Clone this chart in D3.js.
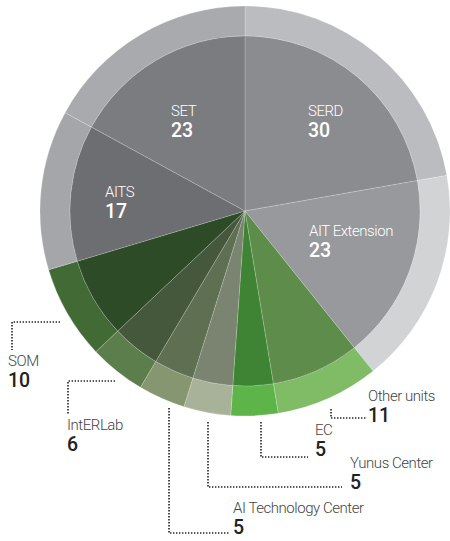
<!DOCTYPE html>
<html>
<head>
<meta charset="utf-8">
<script src="https://cdn.jsdelivr.net/npm/d3@7"></script>
<style>
  html, body { margin: 0; padding: 0; background: #fff; }
  svg { display: block; }
  text { font-family: Roboto, "Open Sans", sans-serif; }
</style>
</head>
<body>
<div id="chart"></div>
<script>
// ---- data ----
const units = ["SERD", "AIT Extension", "Other units", "EC", "Yunus Center",
               "AI Technology Center", "IntERLab", "SOM", "AITS", "SET"];
const counts = [30, 23, 11, 5, 5, 5, 6, 10, 17, 23];
const innerColors = ["#8b8c90", "#98999d", "#5e8c4b", "#3f8434", "#7a8470",
                     "#5f6f52", "#46583c", "#2e4b27", "#6d6e72", "#7b7c80"];
const outerColors = ["#bbbcc0", "#d2d3d5", "#80bb66", "#5db54a", "#a8b298",
                     "#859670", "#5c7d4c", "#416a35", "#a5a6aa", "#a9aaae"];
const insideLabels = ["SERD", "AIT Extension", "AITS", "SET"];

// ---- layout (annotation placement, not data) ----
const W = 450, H = 541;
const cx = 245, cy = 211, rIn = 175, rOut = 205;
const insidePos = {
  "SERD": [308, 116], "AIT Extension": [309, 236],
  "AITS": [105, 197], "SET": [171, 116]
};
const outsideLayout = {
  "SOM":                  {text: [8, 366],   line: [[60,322],[12,322],[12,350]]},
  "IntERLab":             {text: [67, 430],  line: [[115,381],[68,381],[68,415]]},
  "AI Technology Center": {text: [233, 513], line: [[169,408],[169,533],[230,533]]},
  "Yunus Center":         {text: [350, 468], line: [[208,422],[208,487],[342,487]]},
  "EC":                   {text: [315, 435], line: [[261,422],[261,457],[308,457]]},
  "Other units":          {text: [368, 401], line: [[331,409],[331,418],[366,418]]}
};

const data = units.map((u, i) => ({unit: u, value: counts[i], inner: innerColors[i], outer: outerColors[i]}));

const svg = d3.select("#chart").append("svg")
  .attr("width", W).attr("height", H);

const pie = d3.pie().value(d => d.value).sort(null).startAngle(0).endAngle(2 * Math.PI);
const arcs = pie(data);

const arcInner = d3.arc().innerRadius(0).outerRadius(rIn);
const arcOuter = d3.arc().innerRadius(rIn).outerRadius(rOut);

const g = svg.append("g").attr("transform", `translate(${cx},${cy})`);

g.selectAll("path.outer").data(arcs).join("path")
  .attr("class", "outer")
  .attr("d", arcOuter)
  .attr("fill", d => d.data.outer)
  .attr("stroke", "rgba(255,255,255,0.35)")
  .attr("stroke-width", 0.6);

g.selectAll("path.inner").data(arcs).join("path")
  .attr("class", "inner")
  .attr("d", arcInner)
  .attr("fill", d => d.data.inner)
  .attr("stroke", "rgba(255,255,255,0.3)")
  .attr("stroke-width", 0.6);

// inside labels
data.filter(d => insideLabels.includes(d.unit)).forEach(d => {
  const [x, y] = insidePos[d.unit];
  svg.append("text").attr("x", x).attr("y", y)
    .attr("fill", "#fff").attr("font-size", 15).attr("font-weight", 300)
    .attr("letter-spacing", -0.45)
    .text(d.unit);
  svg.append("text").attr("x", x).attr("y", y + 21)
    .attr("fill", "#fff").attr("font-size", 19.5).attr("font-weight", 500)
    .text(d.value);
});

// outside labels with dotted leaders
data.filter(d => outsideLayout[d.unit]).forEach(d => {
  const L = outsideLayout[d.unit];
  svg.append("path")
    .attr("d", d3.line()(L.line))
    .attr("fill", "none").attr("stroke", "#222")
    .attr("stroke-width", 1.6).attr("stroke-dasharray", "1.4 1.6");
  const [x, y] = L.text;
  svg.append("text").attr("x", x).attr("y", y)
    .attr("fill", "#444").attr("font-size", 15).attr("font-weight", 300)
    .attr("letter-spacing", -0.45)
    .text(d.unit);
  svg.append("text").attr("x", x).attr("y", y + 21)
    .attr("fill", "#222").attr("font-size", 19.5).attr("font-weight", 500)
    .text(d.value);
});
</script>
</body>
</html>
